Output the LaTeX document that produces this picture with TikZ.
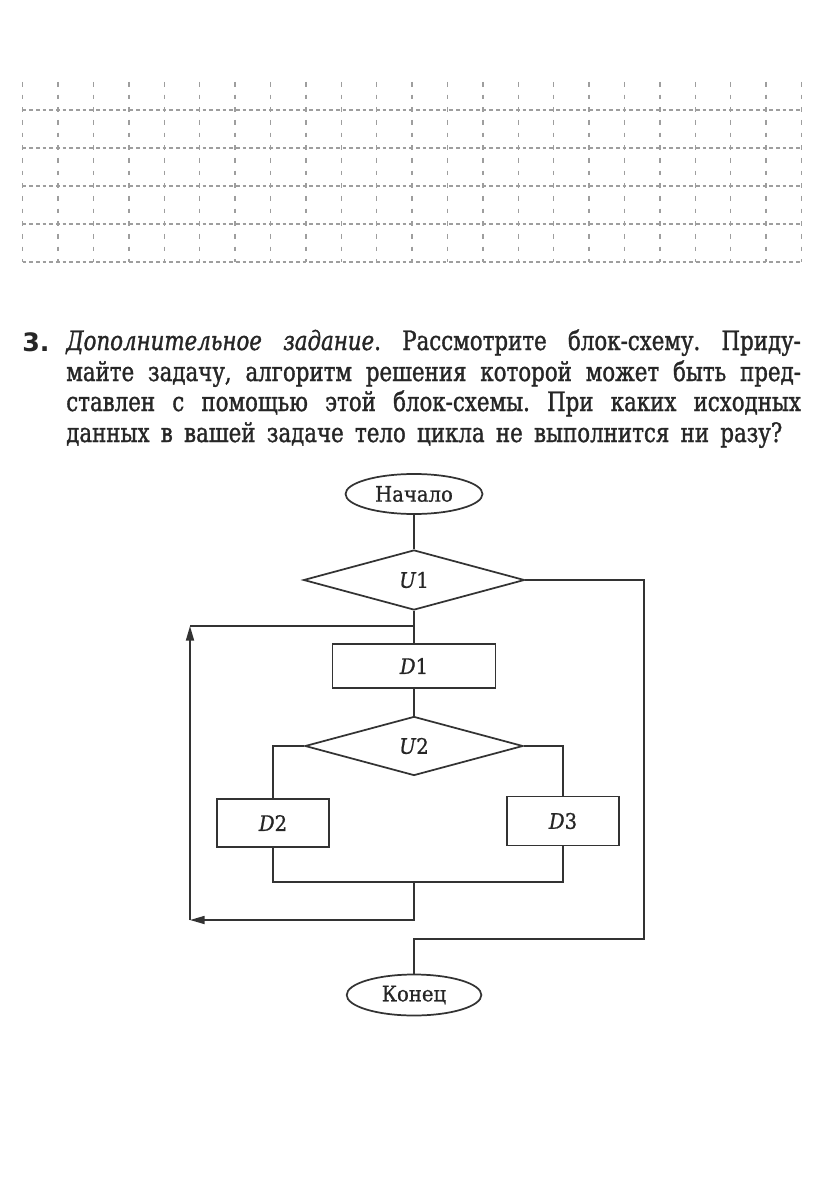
\documentclass[tikz,border=0pt]{standalone}
\usepackage{fontspec}
\setmainfont{DejaVu Serif}
\newfontfamily\numfont{DejaVu Sans}
\newfontfamily\parfont[FakeStretch=0.8,FakeBold=1.2]{DejaVu Serif}
\newfontfamily\lblfont[FakeStretch=0.92,FakeBold=0.8]{DejaVu Serif}
\usetikzlibrary{shapes.geometric,arrows.meta}
\frenchspacing
\begin{document}
\begin{tikzpicture}[x=0.75pt,y=-0.75pt,
  ln/.style={line width=1.3pt, draw=black!80},
  proc/.style={ln, rectangle, inner sep=0pt, text=black!85, font=\lblfont\fontsize{16}{19}\selectfont},
  dec/.style={ln, diamond, inner sep=0pt, text=black!85, font=\lblfont\fontsize{16}{19}\selectfont},
  term/.style={ln, ellipse, inner sep=0pt, text=black!85, font=\lblfont\fontsize{16}{19}\selectfont},
  gridv/.style={draw=black!38, line width=1.1pt, dash pattern=on 3.5pt off 6pt},
  gridh/.style={draw=black!38, line width=1.1pt, dash pattern=on 2.6pt off 2.4pt},
  txt/.style={anchor=base west, inner sep=0pt, text=black!85, font=\parfont\fontsize{20}{23}\selectfont},
  arr/.style={ln, -{Triangle[length=11pt,width=6pt]}}]
\fill[white] (0,0) rectangle (816,1180);
\useasboundingbox (0,0) rectangle (816,1180);
% grid
\foreach \i in {0,...,22} \draw[gridv] ({22.7+35.4*\i},82) -- ({22.7+35.4*\i},262);
\foreach \j in {0,...,4} \draw[gridh] (22.7,{110+38*\j}) -- (801,{110+38*\j});
% task text
\node[anchor=base west, inner sep=0pt, text=black!85, font=\numfont\bfseries\fontsize{19}{22}\selectfont] (num) at (22,351) {3.};
\node[txt] (l1) at (66,350) {\makebox[551pt][s]{\itshape Дополнительное задание\upshape. Рассмотрите блок-схему. Приду-}};
\node[txt] (l2) at (66,381) {\makebox[551pt][s]{майте задачу, алгоритм решения которой может быть пред-}};
\node[txt] (l3) at (66,411) {\makebox[551pt][s]{ставлен с помощью этой блок-схемы. При каких исходных}};
\node[txt] (l4) at (66,442) {\makebox[537pt][s]{данных в вашей задаче тело цикла не выполнится ни разу?}};
% flowchart
\node[term, minimum width=102.75pt, minimum height=30pt] (start) at (414,494) {Начало};
\node[dec, minimum width=165.75pt, minimum height=45pt] (u1) at (414,580) {\textit{U}1};
\node[proc, minimum width=122.25pt, minimum height=33pt] (d1) at (414,666) {\textit{D}1};
\node[dec, minimum width=163.5pt, minimum height=44.25pt] (u2) at (414,746) {\textit{U}2};
\node[proc, minimum width=84pt, minimum height=36pt] (d2) at (273,823) {\textit{D}2};
\node[proc, minimum width=84pt, minimum height=36.75pt] (d3) at (563,821) {\textit{D}3};
\node[term, minimum width=101pt, minimum height=30.75pt] (end) at (414,995) {Конец};
\coordinate (jn) at (414,882);
\coordinate (jb) at (414,920);
\coordinate (lb) at (190,920);
\coordinate (lt) at (190,626);
\coordinate (lj) at (414,626);
\coordinate (rc) at (644,939);
\draw[ln] (start) -- (u1);
\draw[ln] (u1) -- (d1);
\draw[ln] (d1) -- (u2);
\draw[ln] (u2.west) -| (d2.north);
\draw[ln] (u2.east) -| (d3.north);
\draw[ln] (d2.south) |- (jn) -| (d3.south);
\draw[arr] (jn) -- (jb) -- (lb);
\draw[arr] (lb) -- (lt);
\draw[ln] (lt) -- (lj);
\draw[ln] (u1.east) -| (rc) -| (end.north);
\end{tikzpicture}
\end{document}
